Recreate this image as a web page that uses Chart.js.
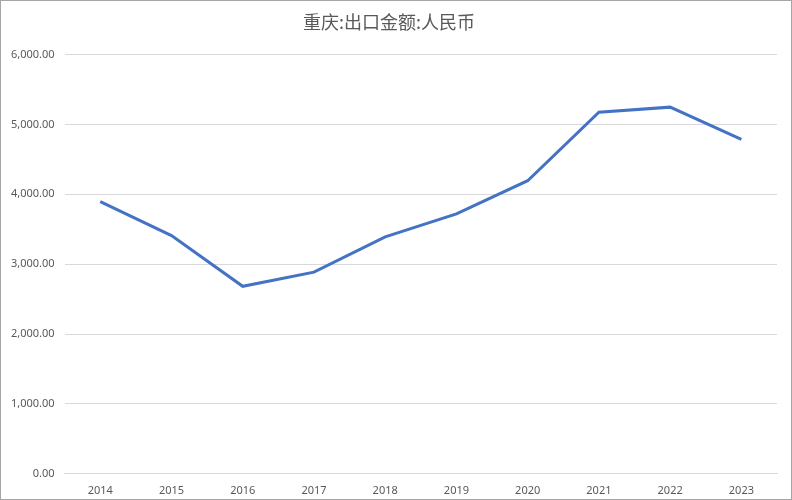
<!DOCTYPE html>
<html>
<head>
    <title>重庆:出口金额:人民币</title>
    <script src="https://cdn.jsdelivr.net/npm/chart.js"></script>
    <style>
        html, body { margin: 0; padding: 0; background: #fff; }
        #chartContainer {
            position: relative;
            width: 790px;
            height: 498px;
            border: 1px solid #a6a6a6;
        }
    </style>
</head>
<body>
    <div id="chartContainer">
        <canvas id="myChart"></canvas>
    </div>
    <script>
        const years = ['2014', '2015', '2016', '2017', '2018', '2019', '2020', '2021', '2022', '2023'];
        const exportValues = [3895, 3410, 2684, 2886, 3391, 3720, 4195, 5175, 5248, 4785];

        const ctx = document.getElementById('myChart').getContext('2d');
        new Chart(ctx, {
            type: 'line',
            data: {
                labels: years,
                datasets: [{
                    label: '重庆:出口金额:人民币',
                    data: exportValues,
                    borderColor: '#4472C4',
                    borderWidth: 3,
                    pointRadius: 0,
                    tension: 0,
                    fill: false
                }]
            },
            options: {
                responsive: true,
                maintainAspectRatio: false,
                animation: false,
                layout: { padding: { left: 0, right: 14, top: 0, bottom: 0 } },
                plugins: {
                    legend: { display: false },
                    tooltip: { enabled: false },
                    title: {
                        display: true,
                        text: '重庆:出口金额:人民币',
                        color: '#595959',
                        font: { family: 'Noto Sans CJK SC', size: 18, weight: 'normal' },
                        padding: { top: 10, bottom: 22 }
                    }
                },
                scales: {
                    x: {
                        offset: true,
                        grid: { display: false },
                        border: { color: '#d9d9d9' },
                        ticks: { color: '#595959', font: { family: 'Noto Sans', size: 11 }, padding: 2 }
                    },
                    y: {
                        min: 0,
                        max: 6000,
                        border: { display: false },
                        grid: { color: '#d9d9d9', drawTicks: false },
                        ticks: {
                            stepSize: 1000,
                            padding: 10,
                            color: '#595959',
                            font: { family: 'Noto Sans', size: 11 },
                            callback: v => v.toLocaleString('en-US', { minimumFractionDigits: 2, maximumFractionDigits: 2 })
                        }
                    }
                }
            }
        });
    </script>
</body>
</html>
